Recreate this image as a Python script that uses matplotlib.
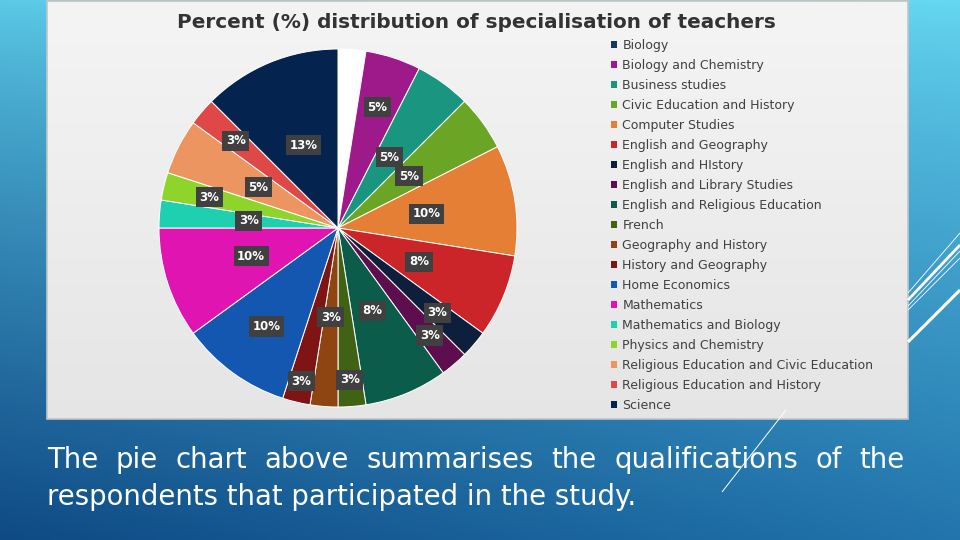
import numpy as np
import matplotlib
matplotlib.use("Agg")
import matplotlib.pyplot as plt
from matplotlib.patches import Rectangle, Patch

# Respondent counts per specialisation (n = 40), clockwise from 12 o'clock
subjects = [
    "Biology", "Biology and Chemistry", "Business studies",
    "Civic Education and History", "Computer Studies", "English and Geography",
    "English and HIstory", "English and Library Studies",
    "English and Religious Education", "French", "Geography and History",
    "History and Geography", "Home Economics", "Mathematics",
    "Mathematics and Biology", "Physics and Chemistry",
    "Religious Education and Civic Education",
    "Religious Education and History", "Science",
]
counts = [1, 2, 2, 2, 4, 3, 1, 1, 3, 1, 1, 1, 4, 4, 1, 1, 2, 1, 5]

legend_colors = [
    "#17375e", "#9e1a8a", "#1a9580", "#6aa526", "#e57f35", "#cc2529",
    "#0d1f3c", "#5e0d4e", "#0b5c4a", "#3f6214", "#8f4512", "#7f1414",
    "#1357b0", "#e014b0", "#1fd0b0", "#8fd42b", "#ec9560", "#e04747",
    "#04234f",
]
# Biology wedge shows up white in the original
wedge_colors = ["#ffffff"] + legend_colors[1:]
# radial position of each percent label (0 = none)
label_dist = [0, 0.71, 0.49, 0.49, 0.5, 0.49, 0.73, 0.79, 0.5, 0.85, 0.5,
              0.88, 0.68, 0.51, 0.5, 0.74, 0.5, 0.75, 0.5]

W, H = 960, 540
fig = plt.figure(figsize=(9.6, 5.4), dpi=100)

# slide background
bg = fig.add_axes([0, 0, 1, 1])
bg.axis("off")
tl, tr = np.array([0x5c, 0xcb, 0xe8]), np.array([0x66, 0xd8, 0xf2])
bl, br = np.array([0x0f, 0x4a, 0x85]), np.array([0x22, 0x75, 0xad])
yy, xx = np.mgrid[0:1:200j, 0:1:300j]
yy = yy ** 0.8
grad = ((1 - yy)[..., None] * ((1 - xx)[..., None] * tl + xx[..., None] * tr)
        + yy[..., None] * ((1 - xx)[..., None] * bl + xx[..., None] * br)) / 255
bg.imshow(grad, extent=[0, W, H, 0], aspect="auto", interpolation="bilinear")

# chart panel
pan = np.linspace(0.955, 0.895, 100)[:, None] * np.ones((1, 2))
bg.imshow(pan, extent=[47, 908, 419, 1], aspect="auto", cmap="gray",
          vmin=0, vmax=1, interpolation="bilinear")
bg.add_patch(Rectangle((47, 1), 861, 418, fill=False, ec="#c4c4c4", lw=1.2))

# decorative lines
for (x0, y0, x1, y1, lw) in [(908, 293, 960, 233, 0.6), (908, 300, 960, 245, 2.0),
                             (908, 306, 960, 251, 0.6), (908, 310, 960, 258, 0.6),
                             (908, 342, 960, 290, 2.2), (786, 410, 722, 492, 0.7)]:
    bg.plot([x0, x1], [y0, y1], color="white", lw=lw, solid_capstyle="butt")
bg.set_xlim(0, W)
bg.set_ylim(H, 0)

# title
bg.text(476, 22, "Percent (%) distribution of specialisation of teachers",
        ha="center", va="center", fontsize=14.4, fontweight="bold",
        color="#333333", family="DejaVu Sans")

# pie
cx, cy, r = 338, 228, 179
ax = fig.add_axes([(cx - r) / W, 1 - (cy + r) / H, 2 * r / W, 2 * r / H])
wedges, _ = ax.pie(counts, colors=wedge_colors, startangle=90, counterclock=False,
                   wedgeprops=dict(edgecolor="white", linewidth=0.7))
ax.set_xlim(-1, 1)
ax.set_ylim(-1, 1)
ax.set_aspect("equal")
total = sum(counts)
for w, c, d in zip(wedges, counts, label_dist):
    if d == 0:
        continue
    ang = np.deg2rad((w.theta1 + w.theta2) / 2)
    pct = int(np.floor(c / total * 100 + 0.5))
    ax.text(d * np.cos(ang), d * np.sin(ang), f"{pct}%", ha="center", va="center",
            color="white", fontsize=8.5, fontweight="bold", family="DejaVu Sans",
            bbox=dict(boxstyle="square,pad=0.3", fc="#404040", ec="none"))

# legend
handles = [Patch(facecolor=c, edgecolor="none") for c in legend_colors]
fig.legend(handles, subjects, loc="upper left", bbox_to_anchor=(611 / W, 1 - 39 / H),
           frameon=False, handlelength=0.5, handleheight=0.5,
           handletextpad=0.4, labelspacing=0.56, borderpad=0, borderaxespad=0,
           prop=dict(family="DejaVu Sans", size=9), labelcolor="#404040")

# caption, first line justified
cap_kw = dict(color="white", fontsize=19.8, family="DejaVu Sans", va="baseline")
words = "The pie chart above summarises the qualifications of the".split()
fig.canvas.draw()
rend = fig.canvas.get_renderer()
objs = [bg.text(0, 468, wd, **cap_kw) for wd in words]
widths = [o.get_window_extent(rend).width for o in objs]
left, right = 47, 905
gap = (right - left - sum(widths)) / (len(words) - 1)
x = left
for o, wd in zip(objs, widths):
    o.set_x(x)
    x += wd + gap
bg.text(47, 505, "respondents that participated in the study.", **cap_kw)

fig.savefig("out.png", dpi=100)
